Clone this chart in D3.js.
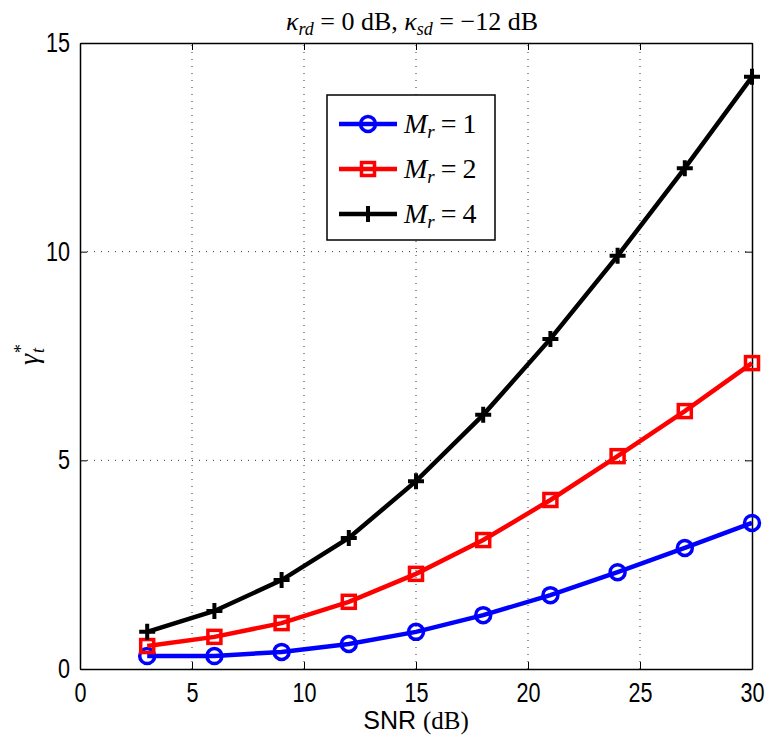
<!DOCTYPE html>
<html>
<head>
<meta charset="utf-8">
<script src="https://cdn.jsdelivr.net/npm/d3@7"></script>
<style>
  body { margin: 0; background: #fff; }
  text { fill: #000; }
</style>
</head>
<body>
<div id="chart"></div>
<script>
// data
var snr = [3, 6, 9, 12, 15, 18, 21, 24, 27, 30];
var mr1 = [0.31, 0.31, 0.41, 0.60, 0.89, 1.29, 1.77, 2.32, 2.90, 3.50];
var mr2 = [0.55, 0.77, 1.10, 1.61, 2.28, 3.09, 4.05, 5.10, 6.18, 7.33];
var mr4 = [0.89, 1.39, 2.13, 3.14, 4.50, 6.09, 7.91, 9.90, 12.0, 14.19];
var xTicks = [0, 5, 10, 15, 20, 25, 30];
var yTicks = [0, 5, 10, 15];

var series = [
  {label: "1", values: mr1, color: "#0000ff", marker: "circle"},
  {label: "2", values: mr2, color: "#ff0000", marker: "square"},
  {label: "4", values: mr4, color: "#000000", marker: "plus"}
];

var W = 770, H = 746;
var margin = {left: 80, right: 18, top: 43, bottom: 77};
var pw = W - margin.left - margin.right;
var ph = H - margin.top - margin.bottom;

var svg = d3.select("#chart").append("svg")
  .attr("width", W)
  .attr("height", H);

var x = d3.scaleLinear().domain([0, 30]).range([margin.left, margin.left + pw]);
var y = d3.scaleLinear().domain([0, 15]).range([margin.top + ph, margin.top]);

var tickFont = "'Liberation Sans', Arial, sans-serif";
var mathFont = "'Liberation Serif', 'DejaVu Serif', serif";

// grid
svg.append("g").selectAll("line.gx")
  .data(xTicks.slice(1, -1))
  .enter().append("line")
  .attr("x1", function(d) { return x(d); })
  .attr("x2", function(d) { return x(d); })
  .attr("y1", y(0)).attr("y2", y(15))
  .attr("stroke", "#333").attr("stroke-width", 1)
  .attr("stroke-dasharray", "1,6");
svg.append("g").selectAll("line.gy")
  .data(yTicks.slice(1, -1))
  .enter().append("line")
  .attr("y1", function(d) { return y(d); })
  .attr("y2", function(d) { return y(d); })
  .attr("x1", x(0)).attr("x2", x(30))
  .attr("stroke", "#333").attr("stroke-width", 1)
  .attr("stroke-dasharray", "1,6");

// axes (inward ticks, box)
var xAxis = svg.append("g")
  .attr("transform", "translate(0," + y(0) + ")")
  .call(d3.axisBottom(x).tickValues(xTicks).tickSizeInner(-7).tickSizeOuter(0).tickPadding(14));
var yAxis = svg.append("g")
  .attr("transform", "translate(" + x(0) + ",0)")
  .call(d3.axisLeft(y).tickValues(yTicks).tickSizeInner(-7).tickSizeOuter(0).tickPadding(10));
svg.append("g")
  .attr("transform", "translate(0," + y(15) + ")")
  .call(d3.axisTop(x).tickValues(xTicks).tickSizeInner(-7).tickSizeOuter(0).tickFormat(""));
svg.append("g")
  .attr("transform", "translate(" + x(30) + ",0)")
  .call(d3.axisRight(y).tickValues(yTicks).tickSizeInner(-7).tickSizeOuter(0).tickFormat(""));

svg.selectAll(".domain").attr("stroke", "#000").attr("stroke-width", 1.5);
svg.selectAll(".tick line").attr("stroke", "#000").attr("stroke-width", 1);
svg.selectAll(".tick text")
  .attr("font-family", tickFont)
  .attr("font-size", 27)
  .attr("transform", "scale(0.8,1)")
  .attr("fill", "#000");
xAxis.selectAll(".tick text").attr("dy", "0.71em");
yAxis.selectAll(".tick text").attr("x", -12.5);

// lines
var line = d3.line()
  .x(function(d, i) { return x(snr[i]); })
  .y(function(d) { return y(d); });

function drawMarker(g, type, color) {
  if (type === "circle") {
    g.append("circle").attr("r", 7.5)
      .attr("fill", "none").attr("stroke", color).attr("stroke-width", 3.5);
  } else if (type === "square") {
    g.append("rect").attr("x", -6.5).attr("y", -6.5).attr("width", 13).attr("height", 13)
      .attr("fill", "none").attr("stroke", color).attr("stroke-width", 3.5);
  } else {
    g.append("path").attr("d", "M-8,0H8M0,-8V8")
      .attr("stroke", color).attr("stroke-width", 4);
  }
}

series.forEach(function(s) {
  svg.append("path")
    .attr("d", line(s.values))
    .attr("fill", "none")
    .attr("stroke", s.color)
    .attr("stroke-width", 4.5);
  svg.append("g").selectAll("g")
    .data(s.values)
    .enter().append("g")
    .attr("transform", function(d, i) { return "translate(" + x(snr[i]) + "," + y(d) + ")"; })
    .each(function() { drawMarker(d3.select(this), s.marker, s.color); });
});

// legend
var lg = svg.append("g").attr("transform", "translate(327,95)");
lg.append("rect").attr("width", 168).attr("height", 145)
  .attr("fill", "#fff").attr("stroke", "#000").attr("stroke-width", 1.5);
series.forEach(function(s, i) {
  var row = lg.append("g").attr("transform", "translate(0," + (29 + i * 45) + ")");
  row.append("line").attr("x1", 12).attr("x2", 70)
    .attr("stroke", s.color).attr("stroke-width", 4.5);
  var m = row.append("g").attr("transform", "translate(41,0)");
  drawMarker(m, s.marker, s.color);
  var t = row.append("text").attr("x", 77).attr("y", 9)
    .attr("font-family", mathFont).attr("font-size", 28);
  t.append("tspan").attr("font-style", "italic").text("M");
  t.append("tspan").attr("font-style", "italic").attr("font-size", 19).attr("dy", 5).text("r");
  t.append("tspan").attr("dy", -5).attr("dx", 6).text("=");
  t.append("tspan").attr("dx", 6).text(s.label);
});

// title
var title = svg.append("text")
  .attr("x", 412).attr("y", 30)
  .attr("text-anchor", "middle")
  .attr("font-family", mathFont).attr("font-size", 26);
title.append("tspan").attr("font-style", "italic").text("κ");
title.append("tspan").attr("font-style", "italic").attr("font-size", 18).attr("dy", 5).text("rd");
title.append("tspan").attr("dy", -5).text(" = 0 dB, ");
title.append("tspan").attr("font-style", "italic").text("κ");
title.append("tspan").attr("font-style", "italic").attr("font-size", 18).attr("dy", 5).text("sd");
title.append("tspan").attr("dy", -5).text(" = −12 dB");

// x label
var xl = svg.append("text")
  .attr("x", 416).attr("y", 729)
  .attr("text-anchor", "middle")
  .attr("font-size", 25);
xl.append("tspan").attr("font-family", tickFont).text("SNR ");
xl.append("tspan").attr("font-family", mathFont).attr("font-size", 25).text("(dB)");

// y label
var yl = svg.append("text")
  .attr("transform", "translate(38,355) rotate(-90)")
  .attr("text-anchor", "middle")
  .attr("font-family", mathFont).attr("font-size", 28);
yl.append("tspan").attr("font-style", "italic").text("γ");
yl.append("tspan").attr("font-style", "italic").attr("font-size", 18).attr("dy", -11).text("*");
yl.append("tspan").attr("font-style", "italic").attr("font-size", 18).attr("dx", -8).attr("dy", 17).text("t");
</script>
</body>
</html>
